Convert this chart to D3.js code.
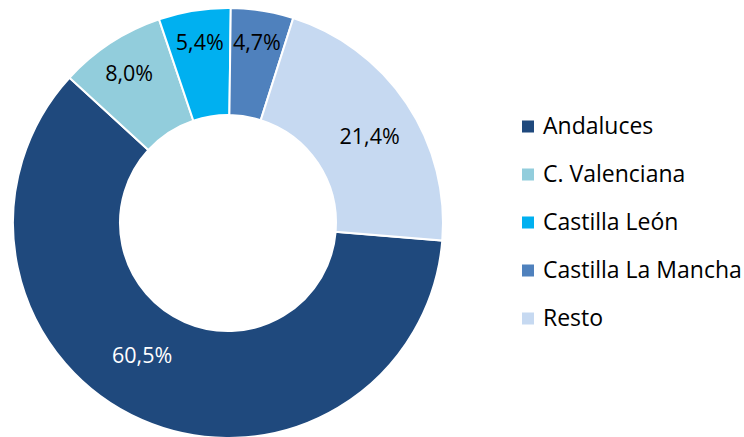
<!DOCTYPE html>
<html>
<head>
<meta charset="utf-8">
<script src="https://cdn.jsdelivr.net/npm/d3@7"></script>
<style>
  body { margin: 0; background: #fff; }
</style>
</head>
<body>
<script>
const width = 744;
const height = 437;

const regions = ["Andaluces", "C. Valenciana", "Castilla León", "Castilla La Mancha", "Resto"];
const shares = [60.5, 8.0, 5.4, 4.7, 21.4];
const colors = ["#1F497D", "#92CDDC", "#00B0F0", "#4F81BD", "#C6D9F1"];

const fontFamily = "'Open Sans', sans-serif";
const cx = 228, cy = 223;
const outerR = 215, innerR = 108;

const data = regions.map((r, i) => ({ region: r, value: shares[i], color: colors[i] }));

var svg = d3.select("body")
  .append("svg")
  .attr("width", width)
  .attr("height", height);

drawDonut(svg)
drawLegend(svg)

function drawDonut(svg) {
  const pie = d3.pie()
    .value(d => d.value)
    .sort(null)
    .startAngle(94.7 * Math.PI / 180)
    .endAngle((94.7 + 360) * Math.PI / 180);

  const arc = d3.arc().innerRadius(innerR).outerRadius(outerR);

  const g = svg.append("g")
    .attr("transform", `translate(${cx}, ${cy})`);

  const arcs = pie(data);

  g.selectAll("path")
    .data(arcs)
    .enter()
    .append("path")
    .attr("d", arc)
    .attr("fill", d => d.data.color)
    .attr("stroke", "#fff")
    .attr("stroke-width", 2);

  // small slices get their labels pushed out a bit, like Excel does
  const labelArc = d => {
    const r = d.data.value < 10 ? 181 : 162;
    return d3.arc().innerRadius(r).outerRadius(r);
  };
  const nudge = { "Andaluces": [-21, -16], "Resto": [7, 3], "C. Valenciana": [0, 2], "Castilla León": [0, -2], "Castilla La Mancha": [0, -2] };

  g.selectAll("text")
    .data(arcs)
    .enter()
    .append("text")
    .attr("transform", d => {
      const c = labelArc(d).centroid(d);
      const n = nudge[d.data.region] || [0, 0];
      return `translate(${c[0] + n[0]}, ${c[1] + n[1]})`;
    })
    .attr("text-anchor", "middle")
    .attr("dy", "0.36em")
    .attr("fill", d => d.data.region === "Andaluces" ? "#fff" : "#000")
    .style("font-family", fontFamily)
    .style("font-size", "21.5px")
    .text(d => d.data.value.toFixed(1).replace(".", ",") + "%");
}

function drawLegend(svg) {
  const legend = svg.append("g")
    .attr("transform", `translate(522, 126)`);

  const items = legend.selectAll("g")
    .data(data)
    .enter()
    .append("g")
    .attr("transform", (d, i) => `translate(0, ${i * 48})`);

  items.append("rect")
    .attr("x", 0)
    .attr("y", -5.5)
    .attr("width", 12)
    .attr("height", 12)
    .attr("fill", d => d.color);

  items.append("text")
    .attr("x", 21)
    .attr("dy", "0.36em")
    .style("font-family", fontFamily)
    .style("font-size", "23px")
    .attr("fill", "#000")
    .text(d => d.region);
}
</script>
</body>
</html>
